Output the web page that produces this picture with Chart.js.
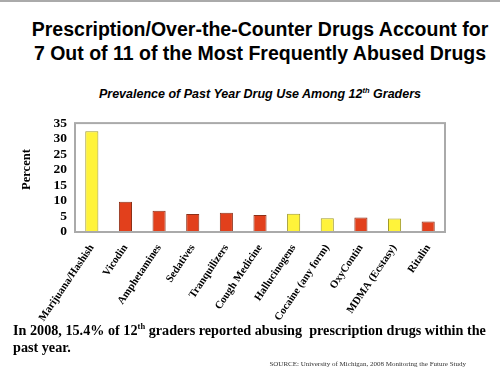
<!DOCTYPE html>
<html><head><meta charset="utf-8">
<script src="https://cdn.jsdelivr.net/npm/chart.js@4"></script>
<style>
html,body{margin:0;padding:0;background:#fff;}
#wrap{position:relative;width:500px;height:376px;overflow:hidden;border-top:2px solid #aaa;box-sizing:border-box;}
.t{position:absolute;left:10px;width:500px;text-align:center;font-family:"Liberation Sans",Arial,sans-serif;font-weight:bold;color:#000;}
#title{top:15px;font-size:19.5px;line-height:24px;}
#sub{top:85px;font-size:12.5px;font-style:italic;}
#note{position:absolute;left:13px;top:320px;width:487px;font-family:"Liberation Serif","Times New Roman",serif;font-weight:bold;font-size:14.2px;line-height:17px;color:#000;}
#src{position:absolute;right:34px;top:358px;font-family:"Liberation Serif","Times New Roman",serif;font-size:7px;color:#333;}
#cv{position:absolute;left:0;top:105px;}
sup{font-size:0.6em;line-height:0;}
</style></head>
<body><div id="wrap">
<div class="t" id="title">Prescription/Over-the-Counter Drugs Account for<br>7 Out of 11 of the Most Frequently Abused Drugs</div>
<div class="t" id="sub">Prevalence of Past Year Drug Use Among 12<sup>th</sup> Graders</div>
<canvas id="cv" width="500" height="215"></canvas>
<div id="note">In 2008, 15.4% of 12<sup>th</sup> graders reported abusing&nbsp; prescription drugs within the past year.</div>
<div id="src">SOURCE: University of Michigan, 2008 Monitoring the Future Study</div>
</div>
<script>
const categories = ["Marijuana/Hashish","Vicodin","Amphetamines","Sedatives","Tranquilizers","Cough Medicine","Hallucinogens","Cocaine (any form)","OxyContin","MDMA (Ecstasy)","Ritalin"];
const percentValues = [32.4, 9.7, 6.8, 5.8, 6.2, 5.5, 5.9, 4.4, 4.7, 4.3, 3.4];
const isPrescription = [false, true, true, true, true, true, false, false, true, false, true];
const yTicks = [0,5,10,15,20,25,30,35];
const yAxisTitle = "Percent";

const YELLOW = "#fff33a", YELLOW_B = "#a09a2a";
const RED = "#e2401c", RED_B = "#8c3018";

const frame = {
  id: "frame",
  afterDraw(c){
    const a = c.chartArea, x = c.ctx;
    x.save(); x.strokeStyle = "#aaaaaa"; x.lineWidth = 2;
    x.strokeRect(a.left, a.top, a.right - a.left, a.bottom - a.top);
    // y axis title, placed slightly above the axis centre as in the reference
    const ys = c.scales.y;
    x.translate(27, (ys.top + ys.bottom) / 2 - 8);
    x.rotate(-Math.PI / 2);
    x.fillStyle = "#000";
    x.font = "bold 12.5px 'Liberation Serif','Times New Roman',serif";
    x.textAlign = "center"; x.textBaseline = "middle";
    x.fillText(yAxisTitle, 0, 0);
    x.restore();
  }
};

new Chart(document.getElementById("cv"), {
  type: "bar",
  data: {
    labels: categories,
    datasets: [{
      data: percentValues,
      backgroundColor: isPrescription.map(p => p ? RED : YELLOW),
      borderColor: isPrescription.map(p => p ? RED_B : YELLOW_B),
      borderWidth: 1,
      categoryPercentage: 1,
      barPercentage: 0.39
    }]
  },
  options: {
    responsive: false,
    animation: false,
    layout: { padding: { left: 0, right: 55, top: 12, bottom: 0 } },
    plugins: { legend: { display: false }, tooltip: { enabled: false } },
    scales: {
      x: {
        grid: { display: false, drawTicks: false },
        border: { display: false },
        ticks: {
          color: "#000", minRotation: 56, maxRotation: 56, autoSkip: false, padding: 10,
          font: { family: "'Liberation Serif','Times New Roman',serif", weight: "bold", size: 10.8 }
        },
        afterFit(s){ s.height = 90; }
      },
      y: {
        min: 0, max: 35,
        afterBuildTicks(s){ s.ticks = yTicks.map(v => ({ value: v })); },
        grid: { display: false, drawTicks: false },
        border: { display: false },
        ticks: {
          color: "#000", padding: 8, autoSkip: false,
          font: { family: "'Liberation Serif','Times New Roman',serif", weight: "bold", size: 13.5 }
        },
        afterFit(s){ s.width = 75; }
      }
    }
  },
  plugins: [frame]
});
</script>
</body></html>
